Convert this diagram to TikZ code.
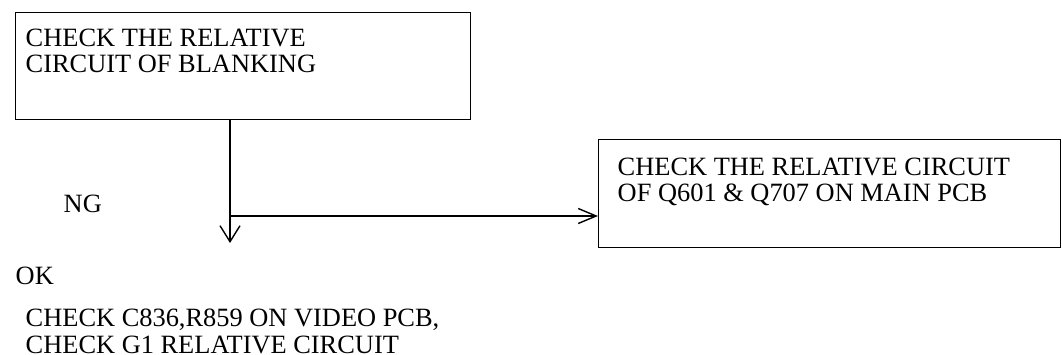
\documentclass[tikz,border=0pt]{standalone}
\usepackage{fontspec}
\setmainfont{Liberation Serif}
\usetikzlibrary{arrows.meta,positioning}

\begin{document}
\begin{tikzpicture}[x=1pt, y=-1pt, line width=1.4pt,
    every node/.style={font=\fontsize{26.4}{26.5}\selectfont, inner sep=0pt},
    chkbox/.style={draw, anchor=north west}]
  \useasboundingbox (0,0) rectangle (1062,355);
  % the two check boxes, text set separately at the top left
  % (base of a two-line node = baseline of its last line)
  \node[chkbox, minimum width=455pt, minimum height=107pt] (blanking) at (15,12) {};
  \node[anchor=base west, align=left] (blanktxt) at (25,73)
    {CHECK THE RELATIVE\\CIRCUIT OF BLANKING};
  \node[chkbox, minimum width=462pt, minimum height=108pt] (mainpcb) at (598,139) {};
  \node[anchor=base west, align=left] (mainpcbtxt) at (617,202)
    {CHECK THE RELATIVE CIRCUIT\\OF Q601 \& Q707 ON MAIN PCB};
  % branch labels and the last step
  \node[anchor=base west] (ng) at (63,213) {NG};
  \node[anchor=base west] (ok) at (15,284) {OK};
  \node[anchor=base west, align=left] (videopcb) at (25,353)
    {CHECK C836,R859 ON VIDEO PCB,\\[0.5pt]CHECK G1 RELATIVE CIRCUIT};
  % connectors
  \coordinate (split) at (230,216);
  \coordinate (okend) at (230,243);
  \draw[-{Straight Barb[length=16pt,width=20pt]}] (blanking.south -| split) -- (okend);
  \draw[-{Straight Barb[length=18pt,width=15pt]}] (split) -- (split -| mainpcb.west);
\end{tikzpicture}
\end{document}
